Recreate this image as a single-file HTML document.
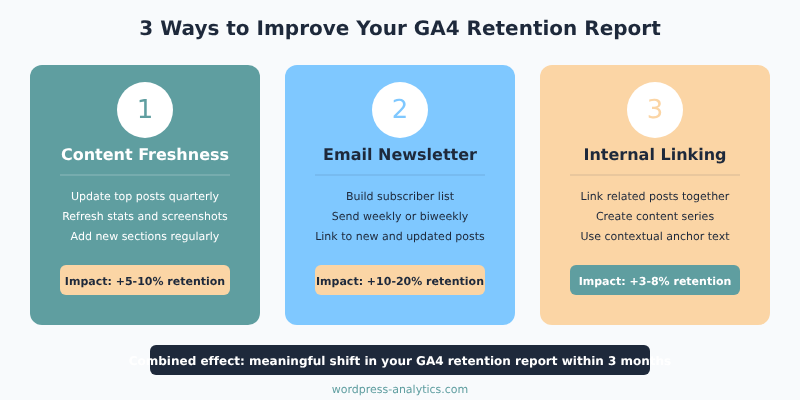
<!DOCTYPE html>
<html lang="en">
<head>
<meta charset="utf-8">
<title>3 Ways to Improve Your GA4 Retention Report</title>
<style>
html,body{margin:0;padding:0;background:#f8fafc;}
body{width:800px;height:400px;overflow:hidden;}
svg{display:block;}
text{text-rendering:geometricPrecision;font-variant-ligatures:none;font-family:"DejaVu Sans","Liberation Sans",sans-serif;text-anchor:middle;}
.b{font-weight:bold;}
</style>
</head>
<body>
<svg width="800" height="400" viewBox="0 0 800 400">
<rect width="800" height="400" fill="#f8fafc"/>
<text class="b" x="400" y="35" font-size="20" fill="#1e293b">3 Ways to Improve Your GA4 Retention Report</text>

<!-- card 1 -->
<rect x="30" y="65" width="230" height="260" rx="12" fill="#5f9ea0"/>
<circle cx="145" cy="110" r="28" fill="#ffffff"/>
<text x="145" y="118" font-size="26" fill="#5f9ea0">1</text>
<text class="b" x="145" y="160" font-size="16" fill="#ffffff">Content Freshness</text>
<rect x="60" y="174" width="170" height="2" fill="#ffffff" fill-opacity="0.15"/>
<text x="145" y="200" font-size="11" fill="#ffffff">Update top posts quarterly</text>
<text x="145" y="220" font-size="11" fill="#ffffff">Refresh stats and screenshots</text>
<text x="145" y="240" font-size="11" fill="#ffffff">Add new sections regularly</text>
<rect x="60" y="265" width="170" height="30" rx="6" fill="#fbd5a5"/>
<text class="b" x="145" y="285" font-size="11" fill="#1e293b">Impact: +5-10% retention</text>

<!-- card 2 -->
<rect x="285" y="65" width="230" height="260" rx="12" fill="#7fc8ff"/>
<circle cx="400" cy="110" r="28" fill="#ffffff"/>
<text x="400" y="118" font-size="26" fill="#7fc8ff">2</text>
<text class="b" x="400" y="160" font-size="16" fill="#1e293b">Email Newsletter</text>
<rect x="315" y="174" width="170" height="2" fill="#1e293b" fill-opacity="0.08"/>
<text x="400" y="200" font-size="11" fill="#1e293b">Build subscriber list</text>
<text x="400" y="220" font-size="11" fill="#1e293b">Send weekly or biweekly</text>
<text x="400" y="240" font-size="11" fill="#1e293b">Link to new and updated posts</text>
<rect x="315" y="265" width="170" height="30" rx="6" fill="#fbd5a5"/>
<text class="b" x="400" y="285" font-size="11" fill="#1e293b">Impact: +10-20% retention</text>

<!-- card 3 -->
<rect x="540" y="65" width="230" height="260" rx="12" fill="#fbd5a5"/>
<circle cx="655" cy="110" r="28" fill="#ffffff"/>
<text x="655" y="118" font-size="26" fill="#fbd5a5">3</text>
<text class="b" x="655" y="160" font-size="16" fill="#1e293b">Internal Linking</text>
<rect x="570" y="174" width="170" height="2" fill="#1e293b" fill-opacity="0.08"/>
<text x="655" y="200" font-size="11" fill="#1e293b">Link related posts together</text>
<text x="655" y="220" font-size="11" fill="#1e293b">Create content series</text>
<text x="655" y="240" font-size="11" fill="#1e293b">Use contextual anchor text</text>
<rect x="570" y="265" width="170" height="30" rx="6" fill="#5f9ea0"/>
<text class="b" x="655" y="285" font-size="11" fill="#ffffff">Impact: +3-8% retention</text>

<!-- footer -->
<rect x="150" y="345" width="500" height="30" rx="6" fill="#1e293b"/>
<text class="b" x="400" y="365" font-size="12" fill="#ffffff">Combined effect: meaningful shift in your GA4 retention report within 3 months</text>
<text x="400" y="393" font-size="11" fill="#5f9ea0">wordpress-analytics.com</text>
</svg>
</body>
</html>
